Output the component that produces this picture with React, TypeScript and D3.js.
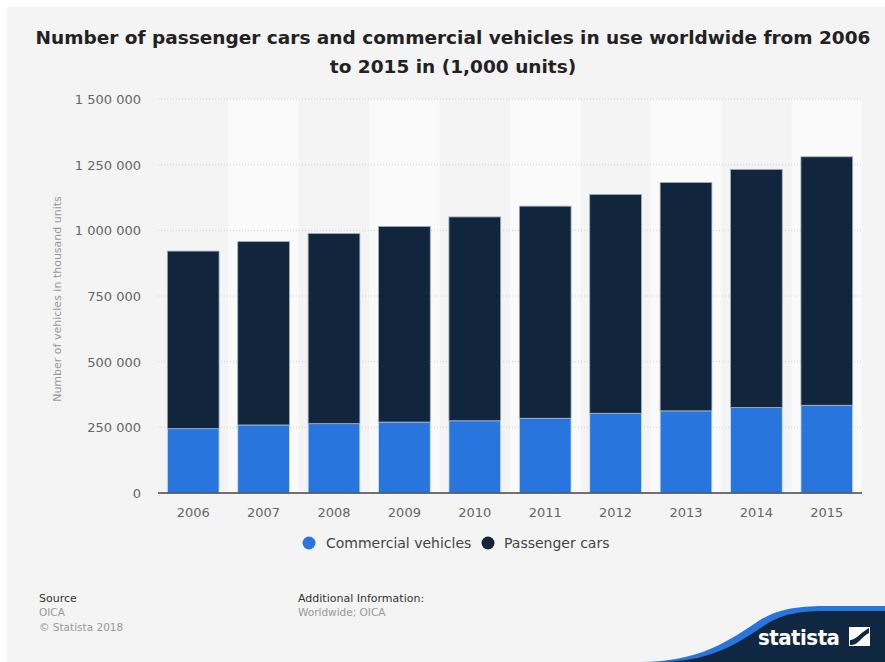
import React from "react";
import * as d3 from "d3";

const years = ["2006", "2007", "2008", "2009", "2010", "2011", "2012", "2013", "2014", "2015"];
const commercial = [245000, 259000, 264000, 270000, 275000, 284500, 303500, 312700, 325300, 334000];
const passenger = [676000, 698000, 724000, 745000, 776000, 807500, 833000, 869300, 906700, 946000];
const yTicks = [0, 250000, 500000, 750000, 1000000, 1250000, 1500000];
const seriesNames = ["Commercial vehicles", "Passenger cars"];
const seriesColors = ["#2876dd", "#11263c"];

const W = 885;
const H = 662;
const left = 158;
const right = 862;
const top = 99;
const bottom = 493;

const fmt = (v: number) => d3.format(",")(v).replace(/,/g, " ");

export default function App() {
  const x = d3.scaleBand<string>().domain(years).range([left, right]).paddingInner(0.265).paddingOuter(0.1325);
  const y = d3.scaleLinear().domain([0, 1500000]).range([bottom, top]);
  const step = x.step();
  const font = "DejaVu Sans, sans-serif";

  const stackData = years.map((yr, i) => ({ year: yr, c: commercial[i], p: passenger[i] }));
  const stack = d3.stack<any>().keys(["c", "p"])(stackData);

  return (
    <svg width={W} height={H} style={{ position: "absolute", left: 0, top: 0 }} fontFamily={font}>
      <rect x={0} y={0} width={W} height={H} fill="#ffffff" />
      <rect x={7} y={7} width={W - 7} height={H - 7} fill="#f4f4f4" />
      <text x={453} y={44} textAnchor="middle" fontSize={18.5} fontWeight="bold" fill="#222">
        Number of passenger cars and commercial vehicles in use worldwide from 2006
      </text>
      <text x={453} y={73} textAnchor="middle" fontSize={18.5} fontWeight="bold" fill="#222">
        to 2015 in (1,000 units)
      </text>
      {years.map((yr, i) =>
        i % 2 === 1 ? (
          <rect key={yr} x={left + i * step} y={top} width={step} height={bottom - top} fill="#fafafa" />
        ) : null
      )}
      {yTicks.map((t) => (
        <g key={t}>
          {t > 0 && (
            <line x1={left} x2={right} y1={y(t)} y2={y(t)} stroke="#cfcfcf" strokeWidth={1} strokeDasharray="1,2" />
          )}
          <text x={141} y={y(t) + 5} textAnchor="end" fontSize={13} fill="#666">
            {fmt(t)}
          </text>
        </g>
      ))}
      <text
        transform={`translate(61,${(top + bottom) / 2 + 3}) rotate(-90)`}
        textAnchor="middle"
        fontSize={11}
        fill="#999"
      >
        Number of vehicles in thousand units
      </text>
      {stack.map((layer, si) =>
        layer.map((d, i) => (
          <rect
            key={si + "-" + i}
            x={x(years[i])!}
            y={y(d[1])}
            width={x.bandwidth()}
            height={y(d[0]) - y(d[1])}
            fill={seriesColors[si]}
            stroke={si === 0 ? "#cfe0f7" : "#9fb0c2"}
            strokeWidth={0.8}
          />
        ))
      )}
      <line x1={left} x2={right} y1={bottom} y2={bottom} stroke="#444" strokeWidth={1.3} />
      {years.map((yr) => (
        <text key={yr} x={x(yr)! + x.bandwidth() / 2} y={517} textAnchor="middle" fontSize={13} fill="#666">
          {yr}
        </text>
      ))}
      <circle cx={309} cy={543} r={6.5} fill={seriesColors[0]} />
      <text x={326} y={548} fontSize={14} fill="#444">
        {seriesNames[0]}
      </text>
      <circle cx={488} cy={543} r={6.5} fill={seriesColors[1]} />
      <text x={504} y={548} fontSize={14} fill="#444">
        {seriesNames[1]}
      </text>
      <text x={39} y={602} fontSize={11} fill="#333">Source</text>
      <text x={39} y={616} fontSize={10.5} fill="#999">OICA</text>
      <text x={39} y={631} fontSize={10.5} fill="#999">© Statista 2018</text>
      <text x={298} y={602} fontSize={11} fill="#333">Additional Information:</text>
      <text x={298} y={616} fontSize={10.5} fill="#999">Worldwide; OICA</text>
      <path d="M 640 662 C 700 662, 730 640, 760 620 C 780 608, 800 606, 830 606 L 885 606 L 885 662 Z" fill="#2876dd" />
      <path d="M 655 662 C 710 662, 735 645, 765 625 C 785 612, 805 611, 830 611 L 885 611 L 885 662 Z" fill="#0f2740" />
      <text x={758} y={645} fontSize={22} fontWeight="bold" fill="#fff" fontFamily="DejaVu Sans Condensed, DejaVu Sans, sans-serif" letterSpacing={-0.5}>
        statista
      </text>
      <rect x={849} y={627} width={21} height={19} fill="#fff" />
      <path d="M 850 645 L 850 640 C 856 640, 860 633, 869 628 L 869 633 C 862 636, 858 645, 852 645 Z" fill="#0f2740" />
    </svg>
  );
}
